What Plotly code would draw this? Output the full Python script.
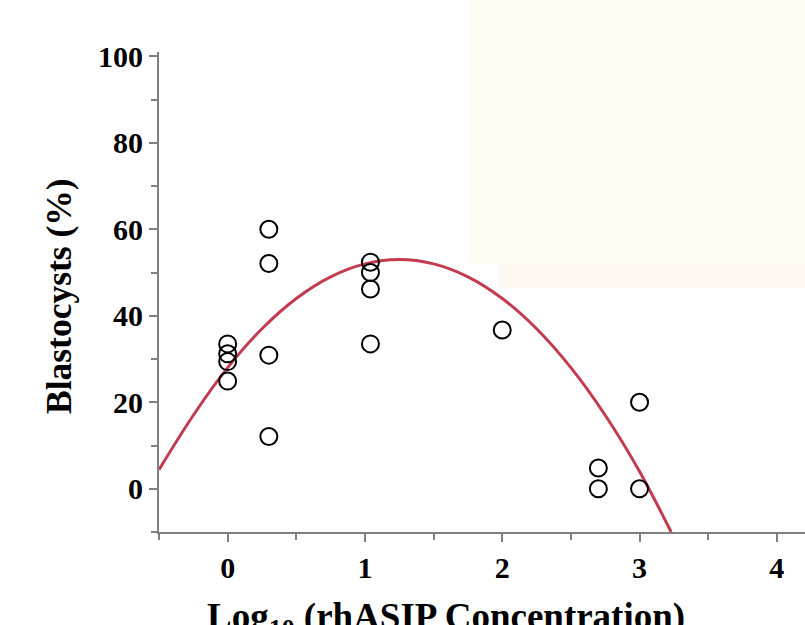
import plotly.graph_objects as go

# Observed data (log10 concentration, blastocyst %)
x_obs = [0, 0, 0, 0, 0.3, 0.3, 0.3, 0.3, 1.04, 1.04, 1.04, 1.04, 2.0, 2.7, 2.7, 3.0, 3.0]
y_obs = [33.5, 31.2, 29.4, 24.9, 60.0, 52.1, 30.9, 12.1, 52.4, 50.0, 46.2, 33.5, 36.7, 4.8, 0.0, 20.0, 0.0]

# Fitted curve
x_fit = [-0.5, -0.25, 0, 0.25, 0.5, 0.75, 1.0, 1.25, 1.5, 1.75, 2.0, 2.25, 2.5, 2.75, 3.0, 3.23]
y_fit = [4.4, 17.0, 28.0, 37.0, 44.0, 49.0, 52.0, 53.0, 52.0, 49.0, 44.0, 37.0, 28.0, 17.0, 4.0, -10.0]

x_ticks = [0, 1, 2, 3, 4]
y_ticks = [0, 20, 40, 60, 80, 100]

W, H = 805, 625
L, R, T = 159, 0, 52
B = H - 532
PW, PH = W - L - R, H - T - B

def px(xp):
    return (xp - L) / PW

def py(yp):
    return (H - B - yp) / PH

fig = go.Figure()
fig.add_trace(go.Scatter(x=x_fit, y=y_fit, mode="lines", line=dict(color="#C23B4E", width=3, shape="spline"),
                         showlegend=False, hoverinfo="skip"))
fig.add_trace(go.Scatter(x=x_obs, y=y_obs, mode="markers",
                         marker=dict(symbol="circle-open", size=17, color="black", line=dict(width=2, color="black")),
                         showlegend=False))

font_family = "Liberation Serif, Times New Roman, serif"
axis_common = dict(showline=True, linecolor="#808080", linewidth=2, ticks="outside", ticklen=8,
                   tickwidth=2, tickcolor="#808080", showgrid=False, zeroline=False,
                   tickfont=dict(family=font_family, size=30, color="black", weight="bold"))

fig.update_xaxes(range=[-0.5, 4.205], tickvals=x_ticks, ticktext=[str(v) for v in x_ticks],
                 minor=dict(ticks="outside", ticklen=6, tickwidth=2, tickcolor="#808080", dtick=0.5, tick0=-0.5),
                 **axis_common)
fig.update_yaxes(range=[-10, 101], tickvals=y_ticks, ticktext=[str(v) for v in y_ticks],
                 minor=dict(ticks="outside", ticklen=6, tickwidth=2, tickcolor="#808080", dtick=10, tick0=10),
                 **axis_common)

fig.add_shape(type="rect", xref="paper", yref="paper", x0=px(470), x1=px(806), y0=py(263), y1=py(-1),
              fillcolor="#FFFDF1", line=dict(width=0), layer="below")
fig.add_shape(type="rect", xref="paper", yref="paper", x0=px(499), x1=px(806), y0=py(288), y1=py(263),
              fillcolor="#FDF9F2", line=dict(width=0), layer="below")

fig.add_annotation(text="<b>Blastocysts (%)</b>", xref="paper", yref="paper", x=px(59), y=py(296),
                   textangle=-90, showarrow=False, xanchor="center", yanchor="middle",
                   font=dict(family=font_family, size=35.5, color="black"))
fig.add_annotation(text="<b>Log<sub>10</sub> (rhASIP Concentration)</b>", xref="paper", yref="paper",
                   x=px(446), y=py(594), showarrow=False, xanchor="center", yanchor="top",
                   font=dict(family=font_family, size=37, color="black"))

fig.update_layout(width=W, height=H, margin=dict(l=L, r=R, t=T, b=B),
                  plot_bgcolor="rgba(0,0,0,0)", paper_bgcolor="white")

fig.write_html("out.html", config={"displayModeBar": False},
               post_script="document.body.style.margin='0';document.body.style.overflow='hidden';")
